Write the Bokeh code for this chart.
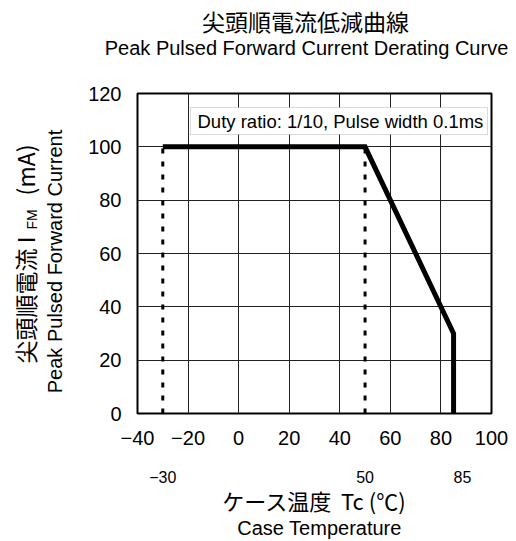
from math import pi

from bokeh.embed import file_html
from bokeh.models import BoxAnnotation, FixedTicker, Label, LinearAxis, Range1d
from bokeh.plotting import figure
from bokeh.resources import INLINE

# Derating curve: case temperature (°C) against peak pulsed forward current (mA)
temp_c = [-30, 50, 85, 85]
current_ma = [100, 100, 30, 0]

# Temperatures marked by dotted guides and by a second row of labels under the axis
guide_temps = [-30, 50]
guide_top = [100, 100]
marked_temps = [-30, 50, 85]
marked_labels = ["−30", "50", "\u2007\u200785"]

x_ticks = [-40, -20, 0, 20, 40, 60, 80, 100]
x_tick_labels = ["−40", "−20", "0", "20", "40", "60", "80", "100"]
y_ticks = [0, 20, 40, 60, 80, 100, 120]
y_tick_labels = ["0", "20", "40", "60", "80", "100", "120"]

condition_text = "Duty ratio: 1/10, Pulse width 0.1ms"

W, H = 516, 541
FL, FR, FT, FB = 137, 491, 93, 413
X0, X1 = -40, 100
Y0, Y1 = 0, 120

LATIN = "Liberation Sans"
CJK = "Noto Sans CJK JP"
NBSP = "\u00a0"


def px_x(px):
    return X0 + (px - FL) / (FR - FL) * (X1 - X0)


def px_y(py):
    return Y0 + (FB - py) / (FB - FT) * (Y1 - Y0)


p = figure(
    width=W, height=H,
    x_range=Range1d(X0, X1), y_range=Range1d(Y0, Y1),
    min_border_left=FL, min_border_right=W - FR,
    min_border_top=FT, min_border_bottom=H - FB,
    output_backend="svg", toolbar_location=None,
    background_fill_color="white", border_fill_color="white",
)

p.outline_line_color = "black"
p.outline_line_width = 2


def style_axis(ax, ticks, labels, size, standoff):
    ax.ticker = FixedTicker(ticks=ticks)
    ax.major_label_overrides = {t: s for t, s in zip(ticks, labels)}
    ax.major_tick_line_color = None
    ax.minor_tick_line_color = None
    ax.major_tick_in = ax.major_tick_out = 0
    ax.minor_tick_in = ax.minor_tick_out = 0
    ax.axis_line_color = None
    ax.major_label_text_font = LATIN
    ax.major_label_text_font_size = size
    ax.major_label_text_color = "black"
    ax.major_label_standoff = standoff


style_axis(p.xaxis[0], x_ticks, x_tick_labels, "20px", 17)
style_axis(p.yaxis[0], y_ticks, y_tick_labels, "20px", 16)

# second row under the x axis: the limit temperatures, plus the axis title
temp_axis = LinearAxis()
style_axis(temp_axis, marked_temps, marked_labels, "16px", 21)
temp_axis.axis_label = "ケース温度" + NBSP + " Tc (℃)"
temp_axis.axis_label_text_font = CJK
temp_axis.axis_label_text_font_size = "22px"
temp_axis.axis_label_text_font_style = "normal"
temp_axis.axis_label_text_color = "black"
temp_axis.axis_label_standoff = -5
p.add_layout(temp_axis, "below")

p.xgrid.ticker = FixedTicker(ticks=x_ticks)
p.ygrid.ticker = FixedTicker(ticks=y_ticks)
for g in (p.xgrid[0], p.ygrid[0]):
    g.grid_line_color = "#222222"
    g.grid_line_width = 1

# dotted guides at the lower and upper temperature limits
p.segment(x0=guide_temps, y0=[0, 0], x1=guide_temps, y1=guide_top,
          line_color="black", line_width=3, line_dash="5 8")

# the derating curve itself
p.line(temp_c, current_ma, line_color="black", line_width=5, line_join="miter")

# measurement condition box
p.add_layout(BoxAnnotation(left=px_x(190), right=px_x(487), top=px_y(107), bottom=px_y(134),
                           fill_color="white", fill_alpha=1,
                           line_color="#808080", line_width=1))
p.add_layout(Label(x=px_x(197), y=px_y(121), text=condition_text,
                   text_font=LATIN, text_font_size="18.5px",
                   text_align="left", text_baseline="middle", text_color="black"))


def side_label(place, **kw):
    kw.setdefault("text_color", "black")
    kw.setdefault("text_baseline", "middle")
    p.add_layout(Label(**kw), place)


# titles
side_label("above", x=px_x(305), y=px_y(20), text="尖頭順電流低減曲線",
           text_font=CJK, text_font_size="23px", text_align="center")
side_label("above", x=px_x(306), y=px_y(47), text="Peak Pulsed Forward Current Derating Curve",
           text_font=LATIN, text_font_size="20px", text_align="center")
side_label("above", x=px_x(319), y=px_y(527), text="Case Temperature",
           text_font=LATIN, text_font_size="20px", text_align="center")

# y axis title, written bottom to top; the gap after "I" holds the subscript
side_label("left", x=px_x(24), y=px_y(363), text="尖頭順電流 I" + NBSP * 8 + "(mA)", angle=pi / 2,
           text_font=CJK, text_font_size="23px", text_align="left")
side_label("right", x=px_x(31), y=px_y(229), text="FM", angle=pi / 2,
           text_font=LATIN, text_font_size="14px", text_align="left")
side_label("left", x=px_x(54), y=px_y(261), text="Peak Pulsed Forward Current", angle=pi / 2,
           text_font=LATIN, text_font_size="20px", text_align="center")

open("out.html", "w").write(file_html(p, INLINE))
